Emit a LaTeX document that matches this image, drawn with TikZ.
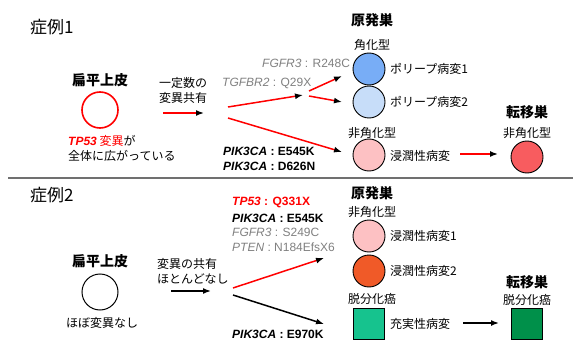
\documentclass[tikz,border=0pt]{standalone}
\usepackage{fontspec}
\setmainfont{Liberation Sans}
\newfontfamily\jp{Noto Sans CJK JP}
\usetikzlibrary{arrows.meta}
\definecolor{genegray}{HTML}{808080}
\definecolor{blueA}{HTML}{78ADF6}
\definecolor{blueB}{HTML}{C7DDF9}
\definecolor{pinkA}{HTML}{FDC1C3}
\definecolor{redA}{HTML}{F85C5F}
\definecolor{orangeA}{HTML}{F05A28}
\definecolor{greenA}{HTML}{16C38E}
\definecolor{greenB}{HTML}{00904A}
\definecolor{sepgray}{HTML}{707070}
\begin{document}
\begin{tikzpicture}[x=1pt,y=-1pt,
  txt/.style={font=\jp\fontsize{12}{15}\selectfont, inner sep=0pt},
  head/.style={font=\jp\bfseries\fontsize{14}{16}\selectfont, inner sep=0pt},
  casehead/.style={font=\jp\fontsize{17}{19}\selectfont, inner sep=0pt, anchor=west},
  gene/.style={font=\fontsize{12}{14}\selectfont, inner sep=0pt, anchor=west},
  bubble/.style={circle, draw=black, line width=0.9pt, minimum size=32pt, inner sep=0pt},
  tissue/.style={circle, line width=1.6pt, minimum size=36pt, inner sep=0pt},
  sqbox/.style={rectangle, draw=black, line width=0.9pt, minimum size=31pt, inner sep=0pt},
  redarrow/.style={red, line width=1.5pt, -{Latex[color=black, length=8pt, width=6pt]}},
  blackarrow/.style={black, line width=1.5pt, -{Latex[length=8pt, width=6pt]}},
]
\useasboundingbox (0,0) rectangle (573,342);

% ---------- Case 1 ----------
\node[casehead] (c1) at (30,27) {症例1};
\node[head] (sq1h) at (100,80) {扁平上皮};
\node[tissue, draw=red] (sq1) at (100,110) {};
\node[txt, anchor=west, align=left] (sq1t) at (68,148)
  {{\color{red}\bfseries\itshape\fontspec{Liberation Sans}TP53} {\color{red}変異}が\\全体に広がっている};
\node[txt, align=center] (share1) at (183,90) {一定数の\\変異共有};
\coordinate (a1s) at (163,113);
\coordinate (a1e) at (204,113);
\draw[redarrow] (a1s) -- (a1e);

\node[gene, text=genegray] (g1) at (262,63) {\textit{FGFR3} : R248C};
\node[gene, text=genegray] (g2) at (222,83) {\textit{TGFBR2} : Q29X};
\node[gene] (g3) at (223,151) {\textbf{\textit{PIK3CA} : E545K}};
\node[gene] (g4) at (223,166) {\textbf{\textit{PIK3CA} : D626N}};

\coordinate (b1s) at (228,107);
\coordinate (b1e) at (303,95);
\draw[redarrow] (b1s) -- (b1e);
\coordinate (b2s) at (309,91);
\coordinate (b2e) at (342,76);
\draw[redarrow] (b2s) -- (b2e);
\coordinate (b3s) at (309,96);
\coordinate (b3e) at (342,102);
\draw[redarrow] (b3s) -- (b3e);
\coordinate (b4s) at (228,118);
\coordinate (b4e) at (342,152);
\draw[redarrow] (b4s) -- (b4e);

\node[head] (p1h) at (372,20) {原発巣};
\node[txt] (p1k) at (372,45) {角化型};
\node[bubble, fill=blueA] (pol1) at (369,69) {};
\node[txt, anchor=west] (pol1t) at (390,69) {ポリープ病変1};
\node[bubble, fill=blueB] (pol2) at (369,102) {};
\node[txt, anchor=west] (pol2t) at (390,102) {ポリープ病変2};
\node[txt] (p1n) at (372,133) {非角化型};
\node[bubble, fill=pinkA] (inv1) at (369,155) {};
\node[txt, anchor=west] (inv1t) at (390,156) {浸潤性病変};

\node[head] (m1h) at (527,112) {転移巣};
\node[txt] (m1n) at (527,133) {非角化型};
\node[bubble, fill=redA] (met1) at (527,157) {};
\coordinate (m1s) at (460,154);
\coordinate (m1e) at (498,154);
\draw[redarrow] (m1s) -- (m1e);

% separator
\coordinate (sepL) at (8,178);
\coordinate (sepR) at (573,178);
\draw[sepgray, line width=2pt] (sepL) -- (sepR);

% ---------- Case 2 ----------
\node[casehead] (c2) at (30,195) {症例2};
\node[head] (sq2h) at (100,261) {扁平上皮};
\node[tissue, draw=black, line width=1pt] (sq2) at (100,292) {};
\node[txt] (sq2t) at (102,323) {ほぼ変異なし};
\node[txt, anchor=west, align=left] (share2) at (157,271) {変異の共有\\ほとんどなし};
\coordinate (a2s) at (171,291);
\coordinate (a2e) at (211,291);
\draw[blackarrow] (a2s) -- (a2e);

\node[gene, text=red] (h1) at (232,202) {\textbf{\textit{TP53} : Q331X}};
\node[gene] (h2) at (232,218) {\textbf{\textit{PIK3CA} : E545K}};
\node[gene, text=genegray] (h3) at (232,232) {\textit{FGFR3} : S249C};
\node[gene, text=genegray] (h4) at (232,247) {\textit{PTEN} : N184EfsX6};
\node[gene] (h5) at (232,334) {\textbf{\textit{PIK3CA} : E970K}};

\coordinate (d1s) at (233,288);
\coordinate (d1e) at (324,258);
\draw[redarrow] (d1s) -- (d1e);
\coordinate (d2s) at (233,295);
\coordinate (d2e) at (324,324);
\draw[blackarrow] (d2s) -- (d2e);

\node[head] (p2h) at (372,193) {原発巣};
\node[txt] (p2n) at (372,212) {非角化型};
\node[bubble, fill=pinkA] (inv21) at (369,236) {};
\node[txt, anchor=west] (inv21t) at (390,236) {浸潤性病変1};
\node[bubble, fill=orangeA] (inv22) at (369,271) {};
\node[txt, anchor=west] (inv22t) at (390,271) {浸潤性病変2};
\node[txt] (p2d) at (372,299) {脱分化癌};
\node[sqbox, fill=greenA] (sol) at (369,324) {};
\node[txt, anchor=west] (solt) at (390,324) {充実性病変};

\node[head] (m2h) at (527,282) {転移巣};
\node[txt] (m2d) at (527,300) {脱分化癌};
\node[sqbox, fill=greenB] (met2) at (527,324) {};
\coordinate (m2s) at (463,323);
\coordinate (m2e) at (499,323);
\draw[blackarrow] (m2s) -- (m2e);
\end{tikzpicture}
\end{document}
